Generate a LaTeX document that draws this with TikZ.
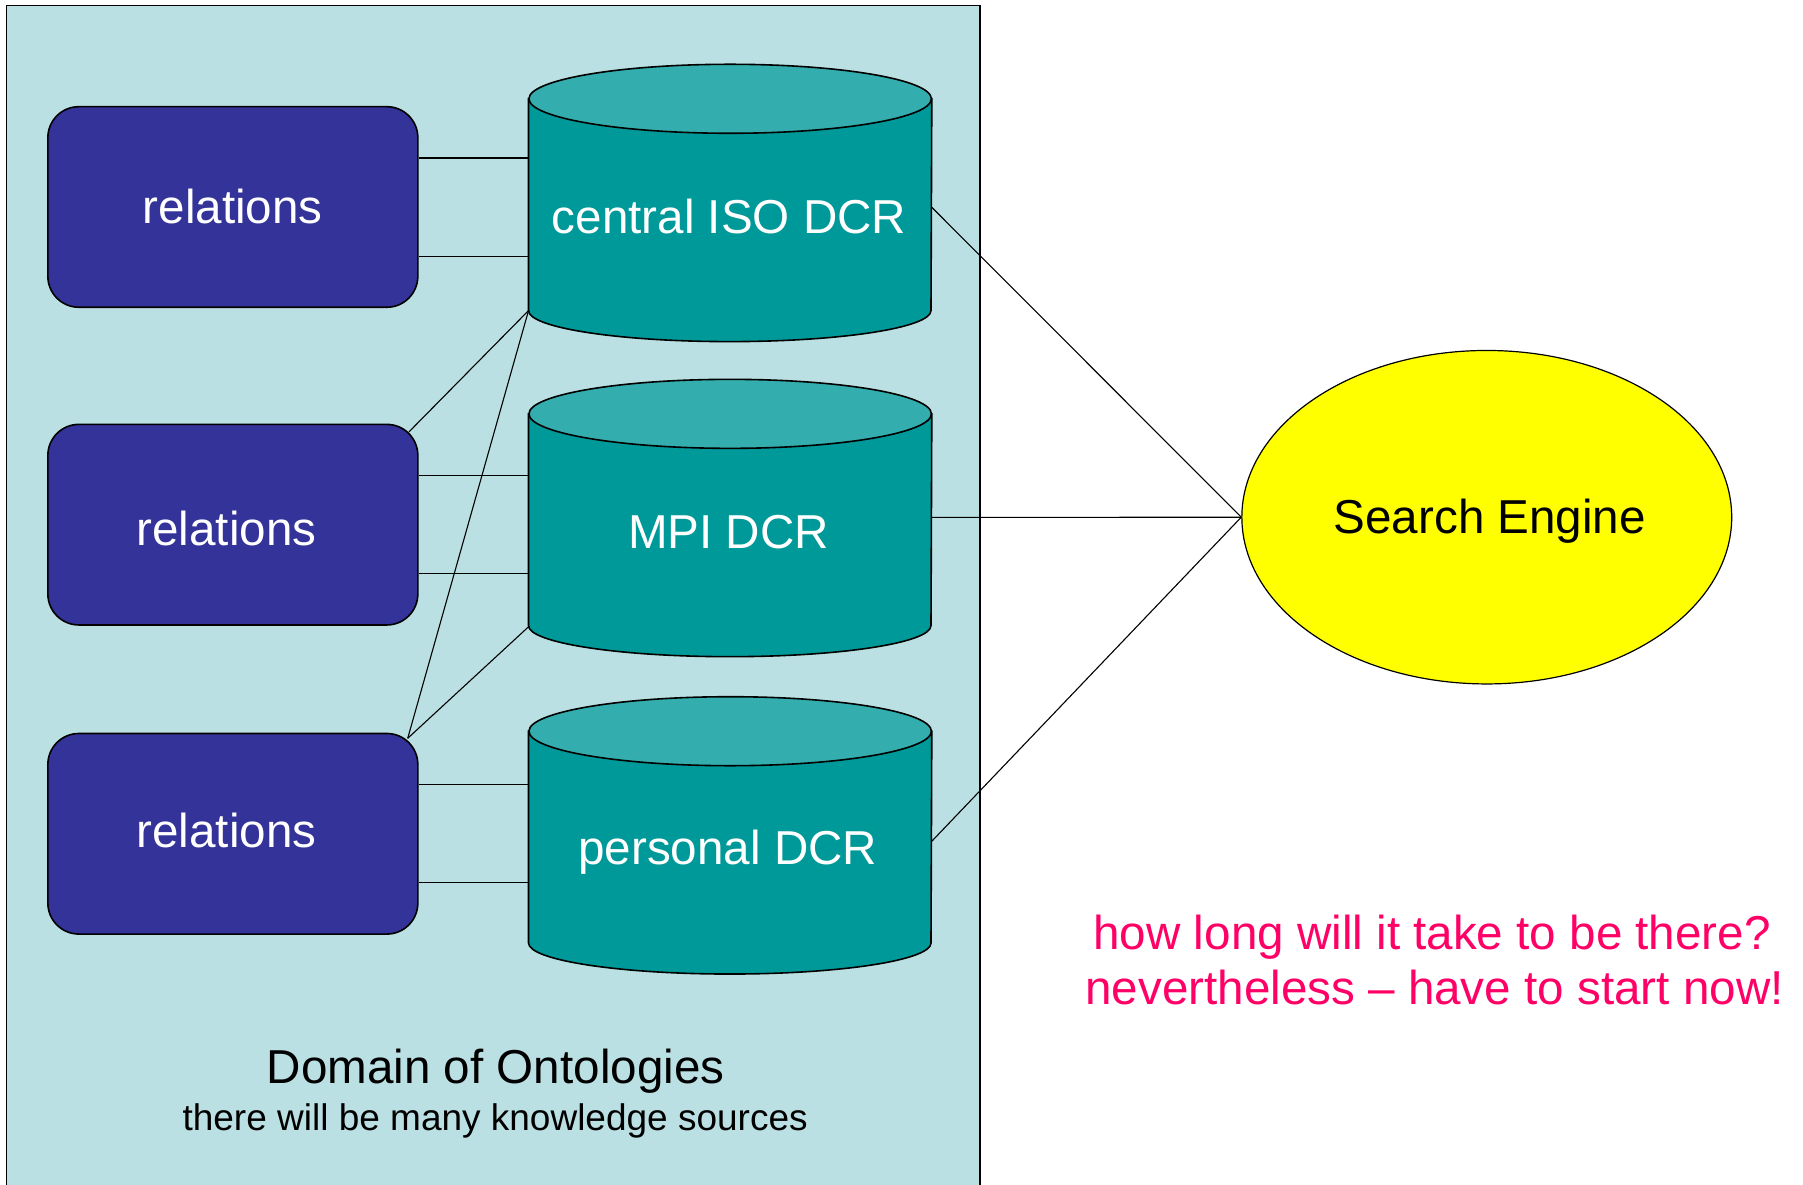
\documentclass[tikz,border=0pt]{standalone}
\usepackage{fontspec}
\setmainfont{Liberation Sans}
\usetikzlibrary{calc,shapes.geometric}
\definecolor{domainbg}{HTML}{BBE0E3}
\definecolor{relblue}{HTML}{333399}
\definecolor{cylbodyc}{HTML}{009999}
\definecolor{cyltopc}{HTML}{33ADAD}
\definecolor{pinktext}{HTML}{FF0066}
\definecolor{seyellow}{RGB}{255,255,0}
\tikzset{
  relbox/.style={draw=black, line width=0.8pt, fill=relblue, rounded corners=15.5pt,
    minimum width=185pt, minimum height=100.3pt, inner sep=0pt},
  cylnode/.style={inner sep=0pt, minimum width=201.25pt, minimum height=105.5pt},
  cylside/.style={draw=black, line width=0.8pt, fill=cylbodyc},
  cyltopst/.style={draw=black, line width=0.8pt, fill=cyltopc},
  senode/.style={ellipse, draw=black, line width=0.6pt, fill=seyellow, inner sep=0pt,
    minimum width=244.95pt, minimum height=166.75pt},
  bigtxt/.style={font=\fontsize{23.8}{28}\selectfont, inner sep=0pt, anchor=base},
  smalltxt/.style={font=\fontsize{18.5}{22}\selectfont, inner sep=0pt, anchor=base},
  conn/.style={draw=black, line width=0.55pt},
}
\begin{document}
\begin{tikzpicture}[x=0.575pt, y=-0.575pt]
\useasboundingbox (0,0) rectangle (1568,1030);
% domain area
\path[fill=domainbg, draw=black, line width=0.8pt] (5.6,4.9) rectangle (852.5,1045);

% relation boxes
\node[relbox] (b1) at (202.5,180) {};
\node[relbox] (b2) at (202.5,456.3) {};
\node[relbox] (b3) at (202.5,725.1) {};

% cylinder bodies (named, invisible)
\node[cylnode] (c1) at (635,178) {};
\node[cylnode] (c2) at (635,452) {};
\node[cylnode] (c3) at (635,728) {};

\foreach \c in {c1,c2,c3}{
  \path[cylside] (\c.north west) -- (\c.south west)
     arc[start angle=180, end angle=0, x radius=175, y radius=27]
     -- (\c.north east) -- cycle;
  \path[cyltopst] (\c.north) ellipse[x radius=175, y radius=30];
}

% search engine
\node[senode] (se) at (1293,449.8) {};

% connectors boxes -> cylinders
\draw[conn] (b1.east |- 0,137.4) -- (c1.west |- 0,137.4);
\draw[conn] (b1.east |- 0,223.2) -- (c1.west |- 0,223.2);
\draw[conn] (b2.east |- 0,413.6) -- (c2.west |- 0,413.6);
\draw[conn] (b2.east |- 0,498.8) -- (c2.west |- 0,498.8);
\draw[conn] (b3.east |- 0,682) -- (c3.west |- 0,682);
\draw[conn] (b3.east |- 0,767.8) -- (c3.west |- 0,767.8);

% diagonal connectors
\draw[conn] (c1.south west) -- ($(b2.north east)+(-8.4,7.2)$);
\draw[conn] (c1.south west) -- ($(b3.north east)+(-9.5,4.9)$);
\draw[conn] ($(c2.south west)+(0,1)$) -- ($(b3.north east)+(-9.5,4.9)$);

% connectors to search engine
\draw[conn] (c1.east |- 0,180.3) -- (se.west);
\draw[conn] (c2.east |- 0,450) -- (se.west);
\draw[conn] (c3.east |- 0,731.6) -- (se.west);

% texts
\node[bigtxt, text=white] (t1) at (202.4,194.2) {relations};
\node[bigtxt, text=white] (t2) at (196.9,474.5) {relations};
\node[bigtxt, text=white] (t3) at (196.9,737.1) {relations};
\node[bigtxt, text=white] (tc1) at (634,203.5) {central ISO DCR};
\node[bigtxt, text=white] (tc2) at (633.6,477.4) {MPI DCR};
\node[bigtxt, text=white] (tc3) at (633,752) {personal DCR};
\node[bigtxt, text=black] (tse) at (1295.7,464.4) {Search Engine};
\node[bigtxt, text=black] (td1) at (431,942) {Domain of Ontologies};
\node[smalltxt, text=black] (td2) at (430.6,983) {there will be many knowledge sources};
\node[bigtxt, text=pinktext] (p1) at (1245.5,826) {how long will it take to be there?};
\node[bigtxt, text=pinktext] (p2) at (1247.6,874) {nevertheless – have to start now!};
\end{tikzpicture}
\end{document}
